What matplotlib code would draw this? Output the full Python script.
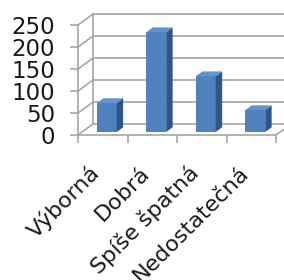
import matplotlib
matplotlib.use("Agg")
import matplotlib.pyplot as plt
from matplotlib.transforms import ScaledTranslation

# survey answers and counts
categories = ["Výborná", "Dobrá", "Spíše špatná", "Nedostatečná"]
counts = [66, 227, 127, 50]
yticks = [0, 50, 100, 150, 200, 250]

# fake 3D (oblique) depth, in data units
DX, DY = 0.303, 25.0
FRONT, BACK = 0.27, 0.70
WIDTH = 0.4

front_col = "#4F81BD"
side_col = "#2F5689"
top_col = "#6393CF"
grid_col = "#A6A6A6"

fig = plt.figure(figsize=(2.84, 2.80), dpi=100)
ax = fig.add_axes([78 / 284, 145 / 280, 206 / 284, 110 / 280])
ax.set_xlim(0, 206 / 49.5)
ax.set_ylim(0, 250)
for s in ax.spines.values():
    s.set_visible(False)

# walls and grid
n = len(categories)
for v in yticks:
    ax.plot([0, DX], [v, v + DY], color=grid_col, lw=1.2, clip_on=False, zorder=1)
    ax.plot([DX, n + DX + 1], [v + DY, v + DY], color=grid_col, lw=1.2, clip_on=False, zorder=1)
ax.plot([DX, DX], [DY, yticks[-1] + DY], color=grid_col, lw=1.2, clip_on=False, zorder=1)
ax.plot([0, 0], [0, yticks[-1]], color=grid_col, lw=1.2, clip_on=False, zorder=1)
ax.plot([0, n], [0, 0], color=grid_col, lw=1.2, clip_on=False, zorder=5)
ax.plot([n, n + DX], [0, DY], color=grid_col, lw=1.2, clip_on=False, zorder=5)

# bars: front face plus side and top faces
xs = [i + 0.5 - WIDTH / 2 + FRONT * DX for i in range(n)]
base = FRONT * DY
ax.bar(xs, counts, width=WIDTH, bottom=base, align="edge", color=front_col, zorder=3)
d = BACK - FRONT
for x, v in zip(xs, counts):
    top = base + v
    ax.fill([x + WIDTH, x + WIDTH + d * DX, x + WIDTH + d * DX, x + WIDTH],
            [base, base + d * DY, top + d * DY, top], color=side_col, zorder=3, lw=0)
    ax.fill([x, x + d * DX, x + WIDTH + d * DX, x + WIDTH],
            [top, top + d * DY, top + d * DY, top], color=top_col, zorder=3, lw=0)

ax.set_yticks(yticks)
ax.set_yticklabels([str(v) for v in yticks], fontsize=16.5, color="#1A1A1A")
ax.tick_params(axis="y", length=5.5, width=1.2, color=grid_col, pad=11)

ax.set_xticks(range(n + 1))
ax.set_xticklabels([])
ax.tick_params(axis="x", which="major", length=6, width=1.2, color=grid_col)
ax.set_xticks([i + 0.5 for i in range(n)], minor=True)
ax.set_xticklabels(categories, minor=True, rotation=45, ha="right", va="center",
                   rotation_mode="anchor", fontsize=16, color="#1A1A1A")
ax.tick_params(axis="x", which="minor", length=0, pad=25)
shift = ScaledTranslation(-6 / 100, 0, fig.dpi_scale_trans)
for lab in ax.get_xticklabels(minor=True):
    lab.set_transform(lab.get_transform() + shift)

fig.savefig("out.png", dpi=100)
